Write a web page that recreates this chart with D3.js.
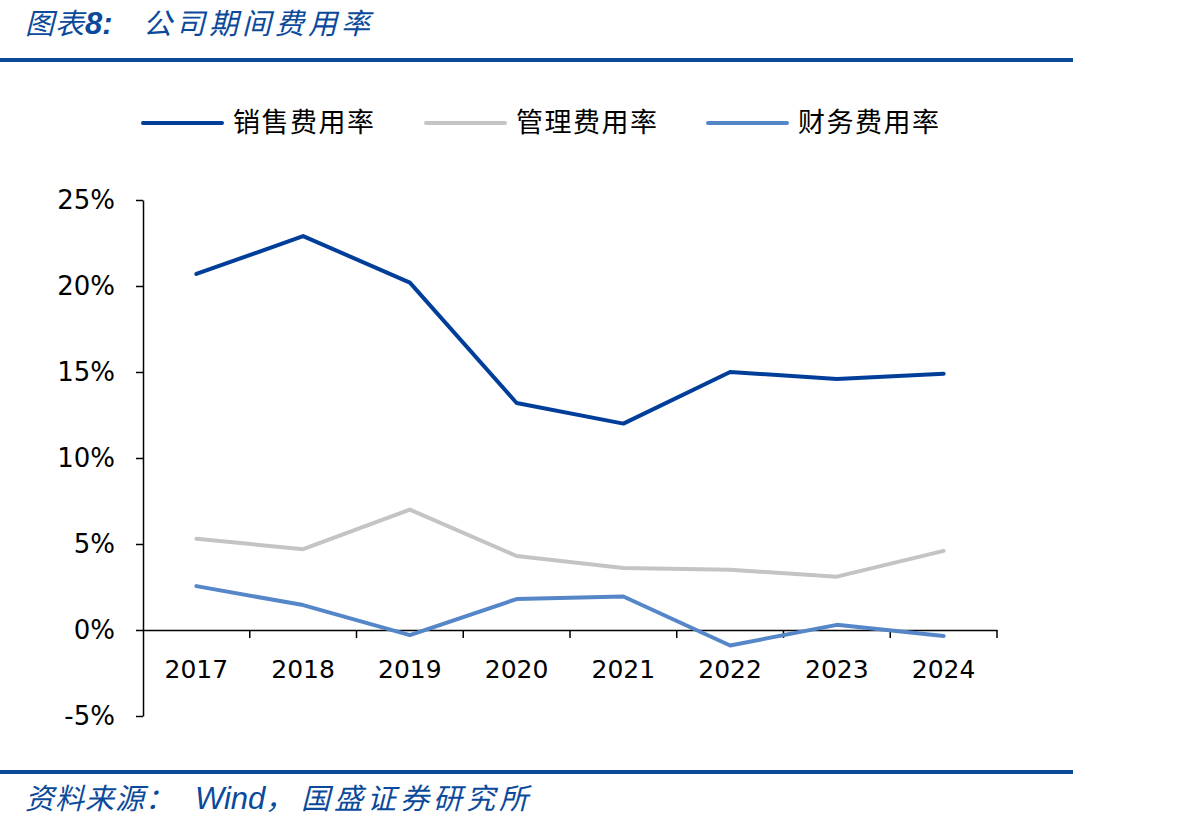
<!DOCTYPE html>
<html><head><meta charset="utf-8">
<script src="https://cdn.jsdelivr.net/npm/d3@7"></script>
<style>
body{margin:0;background:#fff;}
svg{display:block;}
</style></head>
<body>
<svg id="c" width="1192" height="828"></svg>
<script>
const categories = ["2017","2018","2019","2020","2021","2022","2023","2024"];
const seriesNames = ["销售费用率","管理费用率","财务费用率"];
const salesRate = [20.7, 22.9, 20.2, 13.2, 12.0, 15.0, 14.6, 14.9];
const adminRate = [5.3, 4.7, 7.0, 4.3, 3.6, 3.5, 3.1, 4.6];
const financeRate = [2.55, 1.45, -0.3, 1.8, 1.95, -0.9, 0.3, -0.35];
const yTicks = [-5, 0, 5, 10, 15, 20, 25];
const colors = ["#003E99", "#C4C4C4", "#5587C8"];
const titlePrefix = "图表";
const titleNum = "8:";
const titleMain = "公司期间费用率";
const sourcePrefix = "资料来源：";
const sourceWind = "Wind";
const sourceMain = "国盛证券研究所";

const svg = d3.select("#c");
const blue = "#0B4A9B";
const cjk = "'Noto Sans CJK SC', sans-serif";

// title
const t = svg.append("text").attr("x", 25).attr("y", 34)
  .attr("font-family", cjk).attr("font-size", 29).attr("font-style", "italic")
  .attr("fill", blue);
t.append("tspan").attr("letter-spacing", 1).text(titlePrefix);
t.append("tspan").attr("font-family", "'Liberation Sans', Arial, sans-serif").attr("font-weight", "bold").attr("font-size", 31).text(titleNum);
t.append("tspan").attr("x", 143).attr("letter-spacing", 4).text(titleMain);
svg.append("rect").attr("x", 0).attr("y", 58).attr("width", 1073).attr("height", 4).attr("fill", blue);

// bottom rule + source
svg.append("rect").attr("x", 0).attr("y", 770).attr("width", 1073).attr("height", 4).attr("fill", blue);
const s = svg.append("text").attr("x", 25).attr("y", 809)
  .attr("font-family", cjk).attr("font-size", 29).attr("font-style", "italic")
  .attr("fill", blue);
s.append("tspan").attr("letter-spacing", 1).text(sourcePrefix);
s.append("tspan").attr("x", 195).attr("font-family", "'Liberation Sans', Arial, sans-serif").attr("font-size", 31).text(sourceWind);
s.append("tspan").text("，");
s.append("tspan").attr("x", 301).attr("letter-spacing", 4).text(sourceMain);

// scales
const x = d3.scaleBand().domain(categories).range([143, 997]);
const y = d3.scaleLinear().domain([-5, 25]).range([716, 200]);

// y axis
const yAxis = d3.axisLeft(y).tickValues(yTicks).tickFormat(d => d + "%").tickSize(7).tickSizeOuter(0);
const gy = svg.append("g").attr("transform", "translate(143,0)").call(yAxis);
gy.selectAll("text").attr("font-family", "'DejaVu Sans', Verdana, sans-serif").attr("font-size", 26).attr("fill", "#000").attr("dx", -18);
gy.selectAll("line").attr("stroke", "#000").attr("stroke-width", 1.5);
gy.select(".domain").attr("stroke", "#000").attr("stroke-width", 1.5);

// x axis at 0
const xAxis = d3.axisBottom(x).tickSize(0).tickSizeOuter(0);
const gx = svg.append("g").attr("transform", `translate(0,${y(0)})`).call(xAxis);
gx.select(".domain").attr("stroke", "#000").attr("stroke-width", 1.5);
gx.selectAll("text").attr("font-family", "'DejaVu Sans', Verdana, sans-serif").attr("font-size", 25).attr("fill", "#000").attr("dy", 0).attr("y", 48);
// category boundary ticks
const bounds = categories.map(c => x(c) + x.bandwidth());
svg.append("g").selectAll("line").data(bounds).join("line")
  .attr("x1", d => d).attr("x2", d => d)
  .attr("y1", y(0)).attr("y2", y(0) + 8)
  .attr("stroke", "#000").attr("stroke-width", 1.5);

// lines
const allSeries = [salesRate, adminRate, financeRate];
const line = d3.line().x((d, i) => x(categories[i]) + x.bandwidth() / 2).y(d => y(d));
allSeries.forEach((sr, k) => {
  svg.append("path").datum(sr).attr("d", line)
    .attr("fill", "none").attr("stroke", colors[k]).attr("stroke-width", 4)
    .attr("stroke-linejoin", "round").attr("stroke-linecap", "round");
});

// legend
const legX = [143, 426, 708];
seriesNames.forEach((n, k) => {
  const g = svg.append("g");
  g.append("line").attr("x1", legX[k]).attr("x2", legX[k] + 79).attr("y1", 123).attr("y2", 123)
    .attr("stroke", colors[k]).attr("stroke-width", 4).attr("stroke-linecap", "round");
  g.append("text").attr("x", legX[k] + 90).attr("y", 132)
    .attr("font-family", cjk).attr("font-size", 27).attr("letter-spacing", 1.5).attr("fill", "#000").text(n);
});
</script>
</body></html>
